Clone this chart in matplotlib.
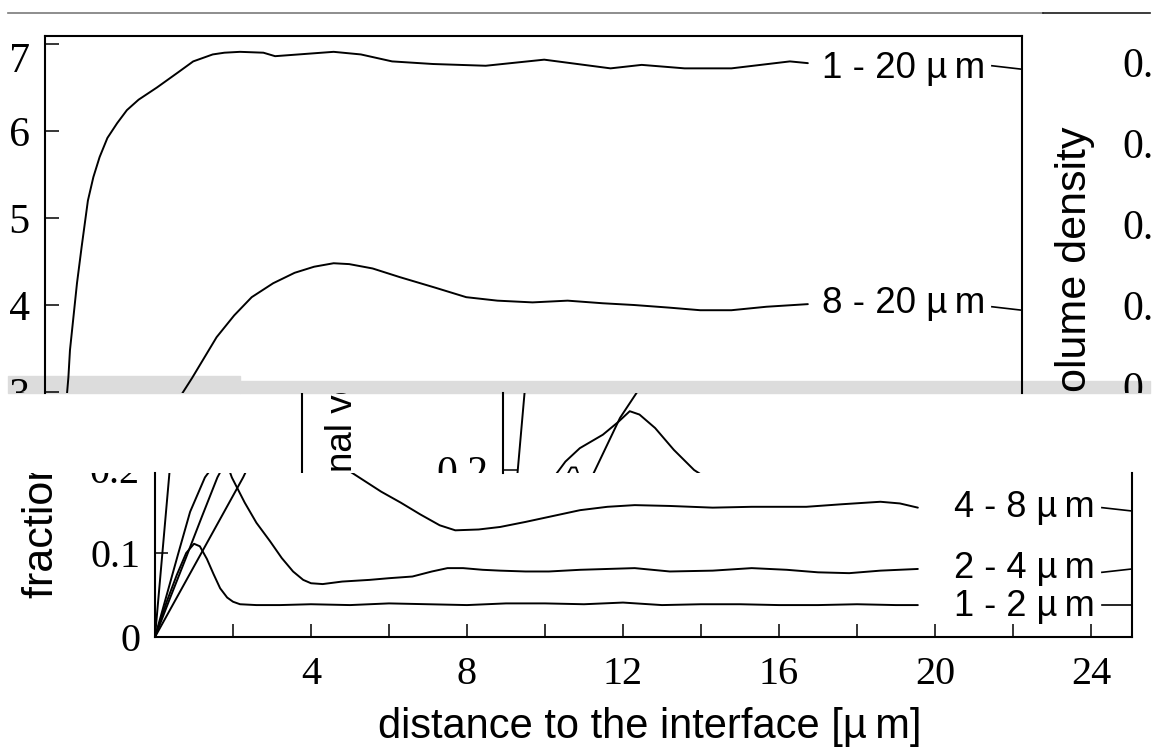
import matplotlib
matplotlib.use("Agg")
import matplotlib.pyplot as plt
from matplotlib.patches import Rectangle
from matplotlib.lines import Line2D
from matplotlib.transforms import Bbox

W, H = 1160, 754          # canvas in pixels (dpi 100)
PX_UM = 39.0              # pixels per micrometre on the distance axis

# fractional volume density vs distance to the interface [um]
x_1_20 = [0, 0.36, 0.6, 0.64, 0.82, 0.94, 1.1, 1.24, 1.4, 1.6, 1.85, 2.1, 2.4, 2.87, 3.4, 3.8, 4.3,
          4.6, 5.0, 5.6, 5.9, 6.5, 7.4, 8.1, 8.9, 9.95, 11.3, 12.8, 14.5, 15.3, 16.4, 17.6, 19.1, 19.56]
y_1_20 = [0, 0.19, 0.317, 0.348, 0.425, 0.467, 0.52, 0.547, 0.57, 0.592, 0.609, 0.624, 0.636, 0.65,
          0.667, 0.68, 0.688, 0.690, 0.691, 0.69, 0.686, 0.688, 0.691, 0.688, 0.68, 0.677, 0.675,
          0.682, 0.672, 0.676, 0.672, 0.672, 0.68, 0.678]
x_8_20 = [0, 1.13, 2.26, 3.0, 3.77, 4.4, 4.85, 5.3, 5.85, 6.4, 6.9, 7.4, 7.8, 8.4, 9.1, 10.0, 10.8,
          11.6, 12.5, 13.4, 14.3, 15.1, 16.0, 16.8, 17.6, 18.5, 19.56]
y_8_20 = [0, 0.095, 0.19, 0.262, 0.316, 0.363, 0.388, 0.409, 0.425, 0.437, 0.444, 0.448, 0.447,
          0.442, 0.432, 0.42, 0.409, 0.405, 0.403, 0.405, 0.402, 0.40, 0.397, 0.394, 0.394, 0.398, 0.401]
x_4_8 = [0, 0.3, 0.6, 0.9, 1.28, 1.6, 1.97, 2.56, 2.95, 3.25, 3.5, 3.9, 4.38, 4.9, 5.3, 5.8, 6.3,
         6.8, 7.3, 7.7, 8.3, 8.85, 9.5, 10.1, 10.9, 11.6, 12.3, 13.2, 14.3, 15.3, 16.7, 17.6, 18.6,
         19.1, 19.56]
y_4_8 = [0, 0.05, 0.1, 0.149, 0.19, 0.21, 0.226, 0.242, 0.257, 0.27, 0.266, 0.25, 0.224, 0.2,
         0.188, 0.173, 0.16, 0.146, 0.133, 0.127, 0.128, 0.131, 0.137, 0.143, 0.151, 0.155, 0.157,
         0.156, 0.154, 0.155, 0.155, 0.158, 0.161, 0.159, 0.154]
x_2_4 = [0, 0.4, 0.8, 1.2, 1.6, 1.75, 1.87, 1.97, 2.3, 2.6, 2.95, 3.25, 3.54, 3.8, 4.0, 4.3, 4.8,
         5.5, 6.0, 6.6, 7.1, 7.5, 7.9, 8.4, 8.85, 9.5, 10.1, 10.9, 11.6, 12.3, 13.2, 14.3, 15.3,
         16.2, 17.0, 17.8, 18.6, 19.56]
y_2_4 = [0, 0.048, 0.095, 0.143, 0.19, 0.203, 0.203, 0.19, 0.16, 0.136, 0.114, 0.094, 0.078,
         0.068, 0.064, 0.063, 0.066, 0.068, 0.07, 0.072, 0.078, 0.082, 0.082, 0.08, 0.079, 0.078,
         0.078, 0.08, 0.081, 0.082, 0.078, 0.079, 0.082, 0.08, 0.077, 0.076, 0.079, 0.081]
x_1_2 = [0, 0.3, 0.56, 0.8, 1.0, 1.15, 1.33, 1.5, 1.67, 1.85, 2.0, 2.18, 2.6, 3.2, 4.0, 5.0, 6.0,
         7.0, 8.0, 9.0, 10.0, 11.0, 12.0, 13.0, 14.0, 15.0, 16.0, 17.0, 18.0, 19.0, 19.56]
y_1_2 = [0, 0.042, 0.074, 0.1, 0.111, 0.108, 0.093, 0.075, 0.058, 0.047, 0.042, 0.039, 0.038,
         0.038, 0.039, 0.038, 0.04, 0.039, 0.038, 0.04, 0.04, 0.039, 0.041, 0.038, 0.039, 0.039,
         0.038, 0.038, 0.039, 0.038, 0.038]
curves = [(x_1_20, y_1_20), (x_8_20, y_8_20), (x_4_8, y_4_8), (x_2_4, y_2_4), (x_1_2, y_1_2)]

# curve labels: text, label height, lead-line start / end height
top_labels = ['1 - 20 \u00b5\u2009m', '8 - 20 \u00b5\u2009m']
top_label_y = [0.672, 0.402]
top_lead = [(0.675, 0.671), (0.398, 0.394)]
low_labels = ['4 - 8 \u00b5\u2009m', '2 - 4 \u00b5\u2009m', '1 - 2 \u00b5\u2009m']
low_label_y = [0.154, 0.082, 0.036]
low_lead = [(0.154, 0.150), (0.077, 0.081), (0.038, 0.038)]

x_major = [4, 8, 12, 16, 20, 24]
x_minor = [2, 6, 10, 14, 18, 22]
y_top_ticks = [0.3, 0.4, 0.5, 0.6, 0.7]
y_low_ticks = [0, 0.1]
ylabel = 'fractional volume density'
xlabel = 'distance to the interface [\u00b5\u2009m]'

SERIF = ['Liberation Serif', 'DejaVu Serif']
SANS = ['Liberation Sans', 'DejaVu Sans']
LW = 1.4

fig = plt.figure(figsize=(W / 100, H / 100), dpi=100)


def box(x0, y0, x1, y1):
    # pixel rectangle (top-left origin) -> figure fraction
    return [x0 / W, 1 - y1 / H, (x1 - x0) / W, (y1 - y0) / H]


def clip(artist, x0, y0, x1, y1):
    artist.set_clip_box(Bbox.from_extents(x0, H - y1, x1, H - y0))
    artist.set_clip_on(True)


def window(x0, y0, x1, y1, xlim, ylim):
    ax = fig.add_axes(box(x0, y0, x1, y1))
    ax.set_facecolor('none')
    ax.set_xlim(xlim)
    ax.set_ylim(ylim)
    for s in ax.spines.values():
        s.set_linewidth(1.5)
    return ax


def draw_curves(ax):
    for xs, ys in curves:
        ax.plot(xs, ys, color='black', lw=LW, solid_joinstyle='round', solid_capstyle='round')


# page decorations: top rule and grey band
fig.add_artist(Line2D([8 / W, 1043 / W], [1 - 13 / H] * 2, color='#7a7a7a', lw=1.2))
fig.add_artist(Line2D([1043 / W, 1150 / W], [1 - 13 / H] * 2, color='#1a1a1a', lw=1.2))
fig.add_artist(Rectangle((8 / W, 1 - 393 / H), (240 - 8) / W, 17 / H, color='#dcdcdc', zorder=-1))
fig.add_artist(Rectangle((240 / W, 1 - 393 / H), (1150 - 240) / W, 12 / H, color='#dcdcdc', zorder=-1))

# ---------------- upper piece ----------------
ya = 870.0  # px per unit
ax_a = window(45, 36, 1022, 393, (0, 977 / PX_UM), (0.7 - (393 - 44) / ya, 0.7 + (44 - 36) / ya))
draw_curves(ax_a)
ax_a.spines['bottom'].set_visible(False)
ax_a.set_xticks([])
# the top label sits a little lower than its tick in the source, so it is drawn separately
ax_a.set_yticks(y_top_ticks, labels=['%.1f' % v for v in y_top_ticks[:-1]] + [''])
ax_a.tick_params(axis='y', direction='in', length=10, width=1.1, pad=10.8,
                 labelsize=30, labelfontfamily=SERIF[0])
for lab in ax_a.get_yticklabels():
    clip(lab, 8, 0, 1152, 393)
t = ax_a.text(-15 / 977, y_top_ticks[-1] - 13 / ya, '%.1f' % y_top_ticks[-1],
              transform=ax_a.get_yaxis_transform(), ha='right', va='center_baseline',
              fontsize=30, family=SERIF)
clip(t, 8, 0, 1152, 393)
for name, ly, (l0, l1) in zip(top_labels, top_label_y, top_lead):
    ax_a.text(24.1, ly, name, ha='right', va='center', fontsize=26.5, family=SANS)
    ax_a.plot([24.28, 977 / PX_UM], [l0, l1], color='black', lw=1.2)

# right-hand piece (labels of a neighbouring copy)
yd = 810.0
ax_d = window(1189, 0, 1589, 393, (0, 1), (0.7 - (393 - 62) / yd, 0.7 + 62 / yd))
for s in ax_d.spines.values():
    s.set_visible(False)
ax_d.set_xticks([])
ax_d.set_yticks(y_top_ticks, labels=['%.1f' % v for v in y_top_ticks])
ax_d.tick_params(axis='y', length=0, pad=10.8, labelsize=30, labelfontfamily=SERIF[0])
for lab in ax_d.get_yticklabels():
    clip(lab, 8, 0, 1152, 393)
t = fig.text(1075 / W, 1 - 127 / H, ylabel, rotation=90, ha='center', va='top',
             fontsize=31, family=SANS)
clip(t, 8, 0, 1152, 393)

# ---------------- middle strip ----------------
ax_b = window(8, 393, 1152, 473, ((8 - 503) / PX_UM, (1152 - 503) / PX_UM),
              (0.2 - 3 / 840, 0.2 + 77 / 840))
draw_curves(ax_b)
for k in ['top', 'right', 'bottom']:
    ax_b.spines[k].set_visible(False)
ax_b.spines['left'].set_position(('data', 0))
ax_b.axvline((302 - 503) / PX_UM, color='black', lw=1.5)
ax_b.set_xticks([])
ax_b.set_yticks([0.2], labels=['0.2'])
ax_b.tick_params(axis='y', direction='in', length=10, width=1.1, pad=10.8,
                 labelsize=30, labelfontfamily=SERIF[0])
for lab in ax_b.get_yticklabels():
    clip(lab, 8, 393, 1152, 473)
t = fig.text(343 / W, 1 - 572 / H, ylabel, rotation=90, ha='center', va='bottom',
             fontsize=26.5, family=SANS)
clip(t, 8, 393, 1152, 473)

# ---------------- lower piece ----------------
yc = 840.0
ax_c = window(155, 473, 1132, 637, (0, 977 / PX_UM), (0, (637 - 473) / yc))
draw_curves(ax_c)
ax_c.spines['top'].set_visible(False)
ax_c.set_xticks(x_major, labels=[str(v) for v in x_major])
ax_c.set_xticks(x_minor, minor=True)
ax_c.set_yticks(y_low_ticks, labels=['0', '0.1'])
ax_c.tick_params(axis='both', which='both', direction='in', length=9.4, width=1.1,
                 labelsize=29, labelfontfamily=SERIF[0])
ax_c.tick_params(axis='x', pad=14)
ax_c.tick_params(axis='y', pad=10.8)
t = ax_c.text(-15 / 977, 0.2, '0.2', transform=ax_c.get_yaxis_transform(), ha='right',
              va='center_baseline', fontsize=29, family=SERIF)
clip(t, 8, 473, 1152, 754)
for name, ly, (l0, l1) in zip(low_labels, low_label_y, low_lead):
    ax_c.text(24.1, ly, name, ha='right', va='center', fontsize=26, family=SANS)
    ax_c.plot([24.28, 977 / PX_UM], [l0, l1], color='black', lw=1.2)
ax_c.set_xlabel(xlabel, fontsize=30, family=SANS, va='top')
ax_c.xaxis.set_label_coords((650 - 155) / 977, (637 - 707) / 164)
t = fig.text(42 / W, 1 - 598 / H, ylabel, rotation=90, ha='center', va='bottom',
             fontsize=31, family=SANS)
clip(t, 8, 473, 1152, 754)

fig.savefig('out.png', dpi=100)
